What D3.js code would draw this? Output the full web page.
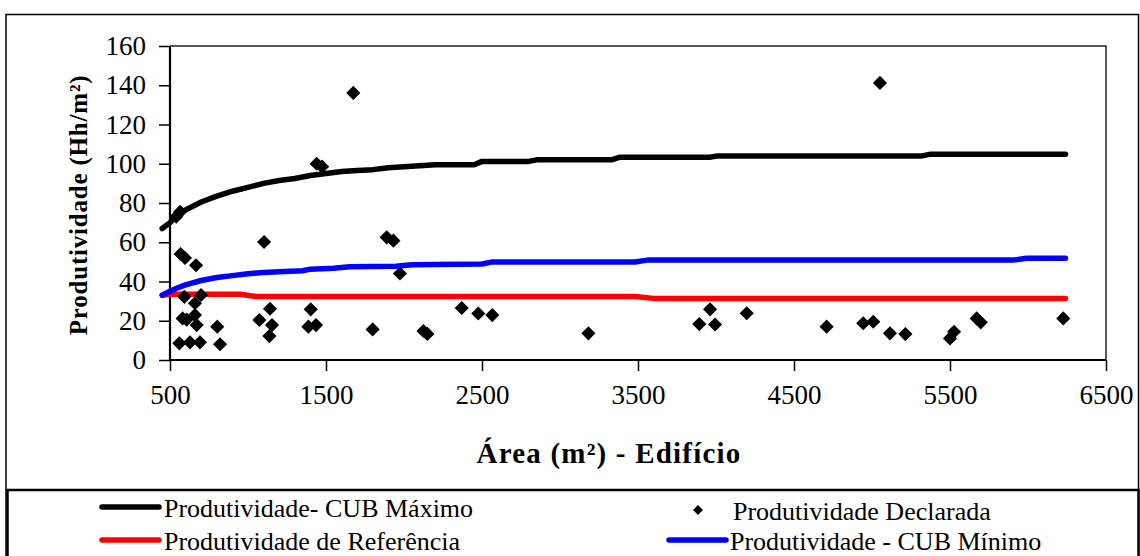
<!DOCTYPE html>
<html><head><meta charset="utf-8">
<script src="https://cdn.jsdelivr.net/npm/d3@7"></script>
<style>
html,body{margin:0;padding:0;background:#fff;}
svg{display:block;font-family:"Liberation Serif","Times New Roman",serif;}
</style></head>
<body><svg id="c" width="1140" height="556"></svg>
<script>
// ---- data ----
const xTicks = [500,1500,2500,3500,4500,5500,6500];
const yTicks = [0,20,40,60,80,100,120,140,160];

const cubMaxX = [450,500,550,600,650,700,800,900,1000,1100,1200,1300,1400,1500,1600,1700,1800,1900,2000,2200,2450,2500,2800,2850,3330,3380,3960,4010,5320,5370,6240];
const cubMaxY = [67,70,74,76.5,78.5,80.5,83.5,86,88,90,91.5,92.5,94,95,96,96.5,97,98,98.5,99.5,99.5,101.2,101.2,102,102,103.3,103.3,104,104,104.8,104.8];

const cubMinX = [450,500,550,600,700,800,900,1000,1100,1200,1350,1400,1550,1650,1950,2050,2500,2560,3480,3560,5900,5990,6240];
const cubMinY = [33,35,36.8,38.3,40.5,42,43,44,44.6,45,45.5,46.3,46.8,47.5,47.8,48.5,48.9,49.9,49.9,50.9,50.9,51.8,51.8];

const refX = [450,500,950,1050,3480,3600,6240];
const refY = [33,33.5,33.5,32.3,32.3,31.4,31.4];

const declX = [1675,5051,1440,1475,540,565,1103,1889,1932,568,596,667,1974,592,699,660,1141,1402,2370,581,607,660,671,803,1073,1154,1137,1387,1436,1799,2125,2150,560,628,692,821,2476,2566,3182,3893,3962,3994,4197,4709,4944,5008,5115,5214,5500,5526,5671,5697,6226];
const declY = [136.1,141.2,100,98.5,73,75.5,60.1,62.5,60.8,54,52,48.3,44.1,32.2,33.1,28.9,26.1,25.8,26.5,21.2,20.6,22.9,17.8,17,20.4,17.8,12.2,17,17.8,15.6,14.8,13.3,8.5,9,9,8,23.7,22.9,13.6,18.3,25.8,18.1,23.8,17,18.7,19.5,13.6,13.2,11,14.4,21.2,19.2,21.2];

const xTitle = "Área (m²) - Edifício";
const yTitle = "Produtividade (Hh/m²)";
const legendNames = ["Produtividade- CUB Máximo","Produtividade Declarada","Produtividade de Referência","Produtividade - CUB Mínimo"];

// ---- drawing ----
const svg = d3.select("#c");
const L = 170, R = 1106, T = 46, B = 360;
const x = d3.scaleLinear().domain([500,6500]).range([L,R]);
const y = d3.scaleLinear().domain([0,160]).range([B,T]);

// outer frame
svg.append("rect").attr("x",6).attr("y",14.5).attr("width",1132.5).attr("height",600)
  .attr("fill","none").attr("stroke","#000").attr("stroke-width",1.5);

// plot border top/right
svg.append("path").attr("d",`M${L},${T}H${R}V${B}`).attr("fill","none")
  .attr("stroke","#222").attr("stroke-width",1.5);

// axes
const gx = svg.append("g").attr("transform",`translate(0,${B})`)
  .call(d3.axisBottom(x).tickValues(xTicks).tickSize(11).tickPadding(13).tickFormat(d3.format("d")));
const gy = svg.append("g").attr("transform",`translate(${L},0)`)
  .call(d3.axisLeft(y).tickValues(yTicks).tickSize(11).tickPadding(13).tickFormat(d3.format("d")));
[gx,gy].forEach(g=>{
  g.select(".domain").attr("stroke","#000").attr("stroke-width",2.2);
  g.selectAll(".tick line").attr("stroke","#000").attr("stroke-width",1.5);
  g.selectAll("text").attr("font-family","Liberation Serif").attr("font-size",27).attr("fill","#000");
});
gx.select(".domain").attr("d",`M${L},0H${R}`);
gy.select(".domain").attr("d",`M0,${B}V${T}`);
gx.selectAll(".tick text").attr("dy","0.75em");

// lines
const line = d3.line().x(d=>x(d[0])).y(d=>y(d[1]));
const series = [
  {xs:refX, ys:refY, c:"#ff0000"},
  {xs:cubMinX, ys:cubMinY, c:"#0000ff"},
  {xs:cubMaxX, ys:cubMaxY, c:"#000000"}
];
series.forEach(s=>{
  svg.append("path").datum(d3.zip(s.xs,s.ys)).attr("d",line)
    .attr("fill","none").attr("stroke",s.c).attr("stroke-width",5.5)
    .attr("stroke-linecap","round").attr("stroke-linejoin","round");
});

// scatter diamonds
const diamond = d3.symbol().type(d3.symbolSquare).size(100);
svg.append("g").selectAll("path").data(d3.zip(declX,declY)).join("path")
  .attr("d",diamond)
  .attr("transform",d=>`translate(${x(d[0])},${y(d[1])}) rotate(45)`)
  .attr("fill","#000");

// axis titles
svg.append("text").attr("x",609).attr("y",463).attr("text-anchor","middle")
  .attr("font-weight","bold").attr("font-size",29).attr("letter-spacing",1.2).text(xTitle);
svg.append("text").attr("transform","translate(87,205) rotate(-90)").attr("text-anchor","middle")
  .attr("font-weight","bold").attr("font-size",25).attr("letter-spacing",0.8).text(yTitle);

// legend box
svg.append("rect").attr("x",7.5).attr("y",490).attr("width",1131).attr("height",100)
  .attr("fill","#fff").attr("stroke","#000").attr("stroke-width",2.5);

const lg = svg.append("g").attr("font-size",26);
const legItems = [
  {type:"line", c:"#000", lx:102, tx:164, cy:507, name:legendNames[0]},
  {type:"dot", c:"#000", lx:698, tx:733, cy:510, name:legendNames[1]},
  {type:"line", c:"#ff0000", lx:102, tx:164, cy:540, name:legendNames[2]},
  {type:"line", c:"#0000ff", lx:669, tx:730, cy:540, name:legendNames[3]}
];
legItems.forEach(it=>{
  if(it.type==="line"){
    lg.append("line").attr("x1",it.lx).attr("x2",it.lx+57).attr("y1",it.cy).attr("y2",it.cy)
      .attr("stroke",it.c).attr("stroke-width",5.5).attr("stroke-linecap","round");
  } else {
    lg.append("path").attr("d",d3.symbol().type(d3.symbolSquare).size(50))
      .attr("transform",`translate(${it.lx},${it.cy}) rotate(45)`).attr("fill",it.c);
  }
  lg.append("text").attr("x",it.tx).attr("y",it.cy+10).text(it.name);
});
</script></body></html>
